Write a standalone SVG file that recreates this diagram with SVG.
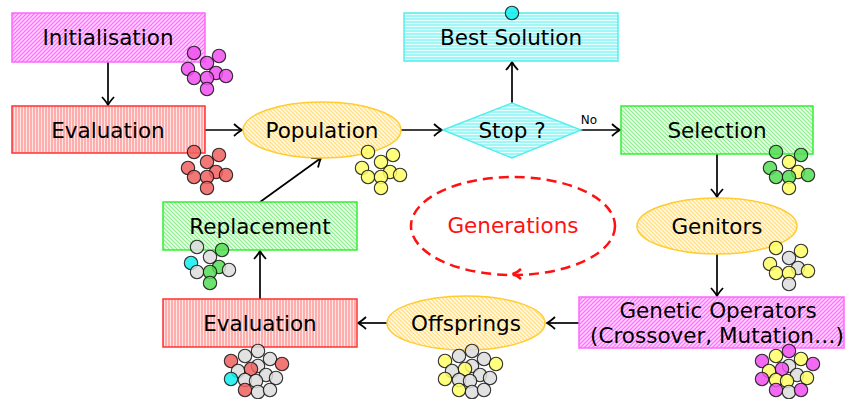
<svg xmlns="http://www.w3.org/2000/svg" width="845" height="399" viewBox="0 0 845 399">
<style>
text{font-family:"DejaVu Sans","Verdana",sans-serif;font-size:21.5px;fill:#000;text-anchor:middle}
.c{stroke:#111;stroke-width:1.1;stroke-opacity:0.85;fill-opacity:0.85}
.m{fill:#f050f0}.r{fill:#f06060}.y{fill:#ffff66}.g{fill:#55dd55}.k{fill:#dddddd}.q{fill:#11eeee}
.e{stroke:#000;stroke-width:1.7;fill:none;marker-end:url(#ah)}
</style>
<defs>
<marker id="ah" markerUnits="userSpaceOnUse" markerWidth="14" markerHeight="14" viewBox="-10 -7 12 14" refX="0" refY="0" orient="auto">
<path d="M-8,-6 Q-3,-1.5 0,0 Q-3,1.5 -8,6" fill="none" stroke="#000" stroke-width="1.8"/>
</marker>
<pattern id="pm" patternUnits="userSpaceOnUse" width="4" height="4">
<rect width="4" height="4" fill="#ffdcff"/>
<path d="M0,4 L4,0 M-1,1 L1,-1 M3,5 L5,3" stroke="#ff70ff" stroke-width="1.3"/>
</pattern>
<pattern id="pr" patternUnits="userSpaceOnUse" width="3" height="3">
<rect width="3" height="3" fill="#ffe4e4"/>
<path d="M1,0 L1,3" stroke="#ff7878" stroke-width="1"/>
</pattern>
<pattern id="pc" patternUnits="userSpaceOnUse" width="3" height="3">
<rect width="3" height="3" fill="#e6ffff"/>
<path d="M0,1 L3,1" stroke="#5eeeee" stroke-width="1"/>
</pattern>
<pattern id="pg" patternUnits="userSpaceOnUse" width="4" height="4">
<rect width="4" height="4" fill="#e6ffe6"/>
<path d="M0,0 L4,4 M-1,3 L1,5 M3,-1 L5,1" stroke="#90ee90" stroke-width="1.2"/>
</pattern>
<pattern id="py" patternUnits="userSpaceOnUse" width="4" height="4">
<rect width="4" height="4" fill="#fff8e4"/>
<path d="M0,0 L4,4 M-1,3 L1,5 M3,-1 L5,1" stroke="#ffdd80" stroke-width="1.2"/>
</pattern>
</defs>

<g id="connectors">
<path class="e" d="M108,62 L108,105"/>
<path class="e" d="M205,130 L242,130"/>
<path class="e" d="M401,130 L442,130"/>
<path class="e" d="M512,103 L512,62"/>
<path class="e" d="M580,130 L620,130"/>
<text x="589" y="124" style="font-size:12px">No</text>
<path class="e" d="M717,154 L717,197"/>
<path class="e" d="M717,254 L717,296"/>
<path class="e" d="M579,323 L547,323"/>
<path class="e" d="M387,323 L358,323"/>
<path class="e" d="M260,299 L260,251"/>
<path class="e" d="M260,202 L321,158"/>
</g>

<g id="generations">
<ellipse cx="513" cy="226" rx="102" ry="49" fill="none" stroke="#ff1111" stroke-width="2.5" stroke-dasharray="10,6"/>
<path d="M521,269 Q517,273 512.5,274 Q517,275 521,279" fill="none" stroke="#ff1111" stroke-width="2.5"/>
<text x="513" y="233" style="fill:#ff1111">Generations</text>
</g>

<g id="initialisation">
<rect x="12" y="13" width="193" height="49" fill="url(#pm)" stroke="#ff66ff" stroke-width="1.5"/>
<text x="108" y="45">Initialisation</text>
<g transform="translate(207,63)">
<circle class="c m" cx="-13" cy="-10" r="6.7"/><circle class="c m" cx="12" cy="-7" r="6.7"/><circle class="c m" cx="0" cy="0" r="6.7"/><circle class="c m" cx="-19" cy="6" r="6.7"/><circle class="c m" cx="-13" cy="15" r="6.7"/><circle class="c m" cx="9" cy="10" r="6.7"/><circle class="c m" cx="19" cy="13" r="6.7"/><circle class="c m" cx="0" cy="15" r="6.7"/><circle class="c m" cx="0" cy="26" r="6.7"/>
</g>
</g>

<g id="evaluation1">
<rect x="12" y="106" width="193" height="47" fill="url(#pr)" stroke="#ff3333" stroke-width="1.5"/>
<text x="108" y="138">Evaluation</text>
<g transform="translate(207,162)">
<circle class="c r" cx="-13" cy="-10" r="6.7"/><circle class="c r" cx="12" cy="-7" r="6.7"/><circle class="c r" cx="0" cy="0" r="6.7"/><circle class="c r" cx="-19" cy="6" r="6.7"/><circle class="c r" cx="-13" cy="15" r="6.7"/><circle class="c r" cx="9" cy="10" r="6.7"/><circle class="c r" cx="19" cy="13" r="6.7"/><circle class="c r" cx="0" cy="15" r="6.7"/><circle class="c r" cx="0" cy="26" r="6.7"/>
</g>
</g>

<g id="population">
<ellipse cx="322" cy="130" rx="79" ry="28" fill="url(#py)" stroke="#ffcc33" stroke-width="1.5"/>
<text x="322" y="138">Population</text>
<g transform="translate(381,162)">
<circle class="c y" cx="-13" cy="-10" r="6.7"/><circle class="c y" cx="12" cy="-7" r="6.7"/><circle class="c y" cx="0" cy="0" r="6.7"/><circle class="c y" cx="-19" cy="6" r="6.7"/><circle class="c y" cx="-13" cy="15" r="6.7"/><circle class="c y" cx="9" cy="10" r="6.7"/><circle class="c y" cx="19" cy="13" r="6.7"/><circle class="c y" cx="0" cy="15" r="6.7"/><circle class="c y" cx="0" cy="26" r="6.7"/>
</g>
</g>

<g id="stop">
<path d="M443,130 L512,103 L581,130 L512,158 Z" fill="url(#pc)" stroke="#55eeee" stroke-width="1.5"/>
<text x="512" y="138">Stop ?</text>
</g>

<g id="best-solution">
<rect x="404" y="13" width="214" height="48" fill="url(#pc)" stroke="#55eeee" stroke-width="1.5"/>
<text x="511" y="45">Best Solution</text>
<circle class="c q" cx="512" cy="13" r="6.7"/>
</g>

<g id="selection">
<rect x="621" y="106" width="192" height="48" fill="url(#pg)" stroke="#33ee33" stroke-width="1.5"/>
<text x="717" y="138">Selection</text>
<g transform="translate(789,162)">
<circle class="c g" cx="-13" cy="-10" r="6.7"/><circle class="c g" cx="12" cy="-7" r="6.7"/><circle class="c y" cx="0" cy="0" r="6.7"/><circle class="c g" cx="-19" cy="6" r="6.7"/><circle class="c g" cx="-13" cy="15" r="6.7"/><circle class="c y" cx="9" cy="10" r="6.7"/><circle class="c g" cx="19" cy="13" r="6.7"/><circle class="c g" cx="0" cy="15" r="6.7"/><circle class="c y" cx="0" cy="26" r="6.7"/>
</g>
</g>

<g id="genitors">
<ellipse cx="717" cy="226" rx="80" ry="28" fill="url(#py)" stroke="#ffcc33" stroke-width="1.5"/>
<text x="717" y="234">Genitors</text>
<g transform="translate(789,258)">
<circle class="c y" cx="-13" cy="-10" r="6.7"/><circle class="c y" cx="12" cy="-7" r="6.7"/><circle class="c k" cx="0" cy="0" r="6.7"/><circle class="c y" cx="-19" cy="6" r="6.7"/><circle class="c y" cx="-13" cy="15" r="6.7"/><circle class="c k" cx="9" cy="10" r="6.7"/><circle class="c y" cx="19" cy="13" r="6.7"/><circle class="c y" cx="0" cy="15" r="6.7"/><circle class="c k" cx="0" cy="26" r="6.7"/>
</g>
</g>

<g id="genetic-operators">
<rect x="579" y="297" width="265" height="51" fill="url(#pm)" stroke="#ff66ff" stroke-width="1.5"/>
<text x="718" y="318">Genetic Operators</text>
<text x="717" y="343">(Crossover, Mutation…)</text>
<g transform="translate(789,366)">
<circle class="c m" cx="-27" cy="-5" r="6.7"/><circle class="c y" cx="-13" cy="-10" r="6.7"/><circle class="c m" cx="0" cy="-15" r="6.7"/><circle class="c y" cx="12" cy="-7" r="6.7"/><circle class="c m" cx="24" cy="-2" r="6.7"/><circle class="c k" cx="0" cy="0" r="6.7"/><circle class="c y" cx="-20" cy="5" r="6.7"/><circle class="c m" cx="-7" cy="3" r="6.7"/><circle class="c k" cx="8" cy="9" r="6.7"/><circle class="c m" cx="-27" cy="13" r="6.7"/><circle class="c y" cx="-13" cy="14" r="6.7"/><circle class="c y" cx="-2" cy="15" r="6.7"/><circle class="c y" cx="18" cy="12" r="6.7"/><circle class="c m" cx="-13" cy="24" r="6.7"/><circle class="c k" cx="0" cy="26" r="6.7"/><circle class="c m" cx="12" cy="24" r="6.7"/>
</g>
</g>

<g id="offsprings">
<ellipse cx="466" cy="323" rx="79" ry="27" fill="url(#py)" stroke="#ffcc33" stroke-width="1.5"/>
<text x="466" y="331">Offsprings</text>
<g transform="translate(472,366)">
<circle class="c y" cx="-27" cy="-5" r="6.7"/><circle class="c k" cx="-13" cy="-10" r="6.7"/><circle class="c k" cx="0" cy="-15" r="6.7"/><circle class="c k" cx="12" cy="-7" r="6.7"/><circle class="c y" cx="24" cy="-2" r="6.7"/><circle class="c k" cx="0" cy="0" r="6.7"/><circle class="c k" cx="-20" cy="5" r="6.7"/><circle class="c y" cx="-7" cy="3" r="6.7"/><circle class="c k" cx="8" cy="9" r="6.7"/><circle class="c y" cx="-27" cy="13" r="6.7"/><circle class="c k" cx="-13" cy="14" r="6.7"/><circle class="c k" cx="-2" cy="15" r="6.7"/><circle class="c k" cx="18" cy="12" r="6.7"/><circle class="c y" cx="-13" cy="24" r="6.7"/><circle class="c k" cx="0" cy="26" r="6.7"/><circle class="c k" cx="12" cy="24" r="6.7"/>
</g>
</g>

<g id="evaluation2">
<rect x="163" y="299" width="194" height="48" fill="url(#pr)" stroke="#ff3333" stroke-width="1.5"/>
<text x="260" y="331">Evaluation</text>
<g transform="translate(258,366)">
<circle class="c r" cx="-27" cy="-5" r="6.7"/><circle class="c k" cx="-13" cy="-10" r="6.7"/><circle class="c k" cx="0" cy="-15" r="6.7"/><circle class="c k" cx="12" cy="-7" r="6.7"/><circle class="c r" cx="24" cy="-2" r="6.7"/><circle class="c k" cx="0" cy="0" r="6.7"/><circle class="c k" cx="-20" cy="5" r="6.7"/><circle class="c r" cx="-7" cy="3" r="6.7"/><circle class="c k" cx="8" cy="9" r="6.7"/><circle class="c q" cx="-27" cy="13" r="6.7"/><circle class="c k" cx="-13" cy="14" r="6.7"/><circle class="c k" cx="-2" cy="15" r="6.7"/><circle class="c k" cx="18" cy="12" r="6.7"/><circle class="c r" cx="-13" cy="24" r="6.7"/><circle class="c k" cx="0" cy="26" r="6.7"/><circle class="c k" cx="12" cy="24" r="6.7"/>
</g>
</g>

<g id="replacement">
<rect x="163" y="202" width="194" height="48" fill="url(#pg)" stroke="#33ee33" stroke-width="1.5"/>
<text x="260" y="234">Replacement</text>
<g transform="translate(210,257)">
<circle class="c k" cx="-13" cy="-10" r="6.7"/><circle class="c g" cx="12" cy="-7" r="6.7"/><circle class="c k" cx="0" cy="0" r="6.7"/><circle class="c q" cx="-19" cy="6" r="6.7"/><circle class="c k" cx="-13" cy="15" r="6.7"/><circle class="c g" cx="9" cy="10" r="6.7"/><circle class="c k" cx="19" cy="13" r="6.7"/><circle class="c g" cx="0" cy="15" r="6.7"/><circle class="c g" cx="0" cy="26" r="6.7"/>
</g>
</g>
</svg>
